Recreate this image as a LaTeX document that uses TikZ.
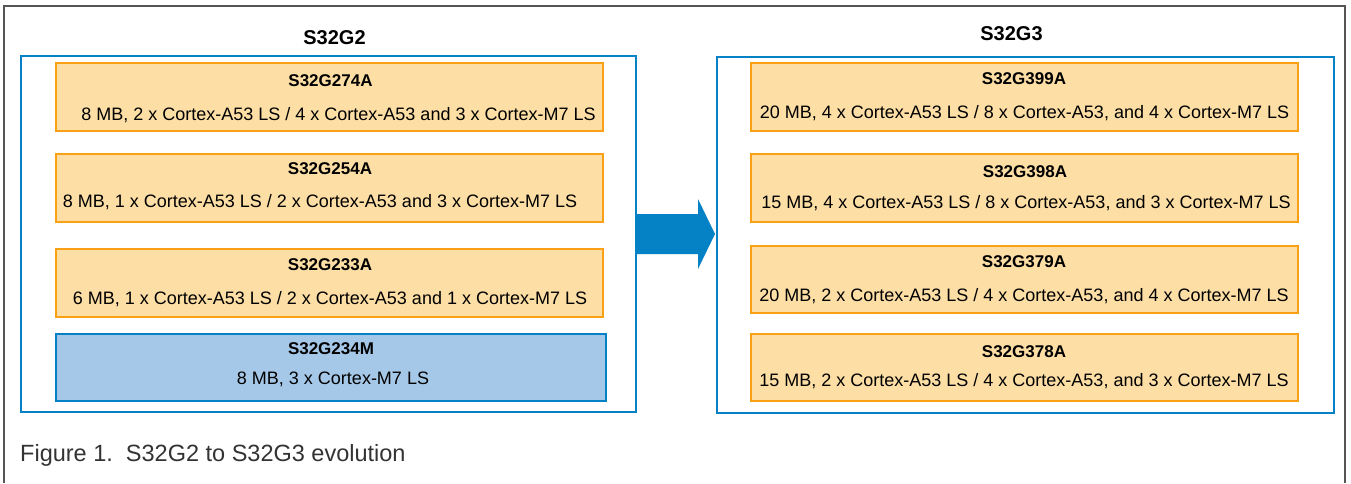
\documentclass[tikz,border=0pt]{standalone}
\usepackage{fontspec}
\setmainfont{Liberation Sans}
\usetikzlibrary{calc}
\definecolor{obord}{RGB}{250,160,20}
\definecolor{ofill}{RGB}{253,222,165}
\definecolor{bfill}{RGB}{166,200,232}
\definecolor{bline}{RGB}{5,130,198}
\definecolor{framegrey}{RGB}{85,85,85}
\definecolor{captext}{RGB}{51,51,51}
\tikzset{
  group/.style={draw=bline, line width=2.5pt, fill=white, inner sep=0pt, outer sep=0pt},
  chip/.style={draw=obord, fill=ofill, line width=2pt, inner sep=0pt},
  chipm/.style={draw=bline, fill=bfill, line width=2pt, inner sep=0pt},
  ttl/.style={anchor=base, inner sep=0pt, font=\fontsize{17}{20}\selectfont\bfseries},
  bodytext/.style={anchor=base, inner sep=0pt, font=\fontsize{18}{21}\selectfont},
  headtext/.style={anchor=base, inner sep=0pt, font=\fontsize{20}{24}\selectfont\bfseries},
}
\begin{document}
\begin{tikzpicture}[x=1pt,y=-1pt]
\useasboundingbox (0,0) rectangle (1351,483);
\fill[white] (0,0) rectangle (1351,483);
% frame
\draw[framegrey, line width=2pt] (4,483) -- (4,6) -- (1345,6) -- (1345,483);

% group boxes
\node[group, minimum width=615pt, minimum height=356pt] (g2) at (328.5,234) {};
\node[group, minimum width=617pt, minimum height=356pt] (g3) at (1025.5,235) {};
\node[headtext] (h2) at (334.5,44.2) {S32G2};
\node[headtext] (h3) at (1011.5,40.7) {S32G3};

% S32G2 chips
\node[chip, minimum width=547pt, minimum height=68pt] (a1) at (329.5,97) {};
\node[chip, minimum width=547pt, minimum height=68pt] (a2) at (329.5,188) {};
\node[chip, minimum width=547pt, minimum height=68pt] (a3) at (329.5,283) {};
\node[chipm, minimum width=550pt, minimum height=67pt] (a4) at (331,367.5) {};

\node[ttl] (a1t) at (330.5,86.6) {S32G274A};
\node[bodytext] (a1b) at (338.5,120.4) {8 MB, 2 x Cortex-A53 LS / 4 x Cortex-A53 and 3 x Cortex-M7 LS};
\node[ttl] (a2t) at (330,174.6) {S32G254A};
\node[bodytext] (a2b) at (320,207.9) {8 MB, 1 x Cortex-A53 LS / 2 x Cortex-A53 and 3 x Cortex-M7 LS};
\node[ttl] (a3t) at (330,270) {S32G233A};
\node[bodytext] (a3b) at (330,304) {6 MB, 1 x Cortex-A53 LS / 2 x Cortex-A53 and 1 x Cortex-M7 LS};
\node[ttl] (a4t) at (331,354.6) {S32G234M};
\node[bodytext] (a4b) at (333,384.4) {8 MB, 3 x Cortex-M7 LS};

% S32G3 chips
\node[chip, minimum width=547pt, minimum height=68pt] (b1) at (1024.5,97) {};
\node[chip, minimum width=547pt, minimum height=68pt] (b2) at (1024.5,188) {};
\node[chip, minimum width=547pt, minimum height=67pt] (b3) at (1024.5,279.5) {};
\node[chip, minimum width=547pt, minimum height=67pt] (b4) at (1024.5,367.5) {};

\node[ttl] (b1t) at (1024,84.6) {S32G399A};
\node[bodytext] (b1b) at (1024.5,118) {20 MB, 4 x Cortex-A53 LS / 8 x Cortex-A53, and 4 x Cortex-M7 LS};
\node[ttl] (b2t) at (1025,177.6) {S32G398A};
\node[bodytext] (b2b) at (1026,208) {15 MB, 4 x Cortex-A53 LS / 8 x Cortex-A53, and 3 x Cortex-M7 LS};
\node[ttl] (b3t) at (1024,267) {S32G379A};
\node[bodytext] (b3b) at (1024,301.5) {20 MB, 2 x Cortex-A53 LS / 4 x Cortex-A53, and 4 x Cortex-M7 LS};
\node[ttl] (b4t) at (1024,357) {S32G378A};
\node[bodytext] (b4b) at (1024,386.5) {15 MB, 2 x Cortex-A53 LS / 4 x Cortex-A53, and 3 x Cortex-M7 LS};

% block arrow
\coordinate (as) at (g2.east);
\coordinate (ae) at (as -| g3.west);
\fill[bline] ($(as)+(0,-20)$) -- ($(ae)+(-19,-20)$) -- ($(ae)+(-19,-35)$)
  -- ($(ae)+(-2,0)$) -- ($(ae)+(-19,35)$) -- ($(ae)+(-19,20)$)
  -- ($(as)+(0,20)$) -- cycle;

% caption
\node[anchor=base west, inner sep=0pt, text=captext, font=\fontsize{23.5}{28}\selectfont] (cap) at (20,461) {Figure 1.\ \ S32G2 to S32G3 evolution};
\end{tikzpicture}
\end{document}
